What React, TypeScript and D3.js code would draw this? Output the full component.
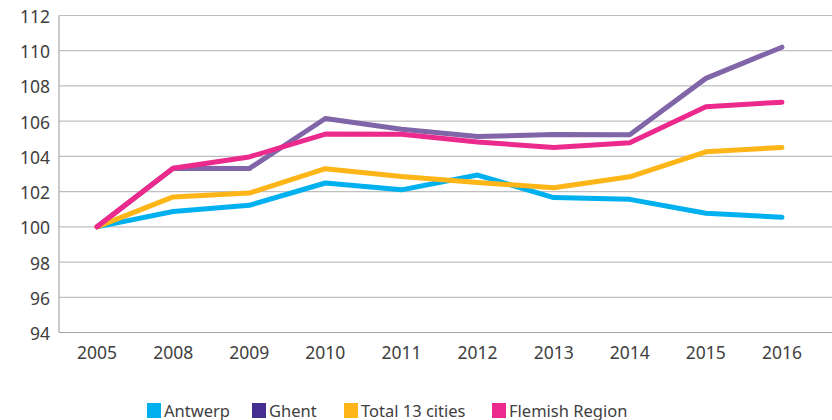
import React from "react";
import * as d3 from "d3";

const years = ["2005", "2008", "2009", "2010", "2011", "2012", "2013", "2014", "2015", "2016"];
const antwerp = [100, 100.87, 101.22, 102.49, 102.1, 102.94, 101.66, 101.56, 100.77, 100.54];
const ghent = [100, 103.33, 103.31, 106.15, 105.54, 105.13, 105.24, 105.23, 108.43, 110.2];
const total13 = [100, 101.7, 101.92, 103.3, 102.86, 102.52, 102.22, 102.84, 104.26, 104.51];
const flemish = [100, 103.33, 103.97, 105.27, 105.26, 104.82, 104.51, 104.77, 106.82, 107.08];
const yTicks = [94, 96, 98, 100, 102, 104, 106, 108, 110, 112];

const series = [
  { name: "Antwerp", values: antwerp, line: "#00b0ef", legend: "#00b0ef" },
  { name: "Ghent", values: ghent, line: "#8065a8", legend: "#442e8f" },
  { name: "Total 13 cities", values: total13, line: "#fdb518", legend: "#fdb518" },
  { name: "Flemish Region", values: flemish, line: "#ec2a8e", legend: "#ec2a8e" },
];

const legendX = [147, 252, 344, 492];

export default function App() {
  const W = 832;
  const H = 420;
  const left = 59;
  const x = d3.scaleBand<string>().domain(years).range([left, 820]);
  const y = d3.scaleLinear().domain([94, 112]).range([332.5, 15.5]);
  const line = d3
    .line<number>()
    .x((_, i) => (x(years[i]) as number) + x.bandwidth() / 2)
    .y((d) => y(d));
  const font = "'Noto Sans', 'Open Sans', sans-serif";
  return (
    <svg
      width={W}
      height={H}
      style={{ position: "absolute", left: 0, top: 0, background: "#fff" }}
      fontFamily={font}
    >
      {yTicks.map((t) => (
        <g key={t}>
          <line x1={left} x2={W} y1={y(t)} y2={y(t)} stroke={t === 94 ? "#a6a6a6" : "#bfbfbf"} strokeWidth={1.2} />
          <text x={50} y={y(t) + 7.5} textAnchor="end" fontSize={17.5} fill="#404040">
            {t}
          </text>
        </g>
      ))}
      <line x1={left} x2={left} y1={y(112)} y2={y(94)} stroke="#a6a6a6" strokeWidth={1.2} />
      {years.map((yr) => (
        <text
          key={yr}
          x={(x(yr) as number) + x.bandwidth() / 2}
          y={358.5}
          textAnchor="middle"
          fontSize={17.5}
          fill="#404040"
        >
          {yr}
        </text>
      ))}
      {series.map((s) => (
        <path
          key={s.name}
          d={line(s.values) || ""}
          fill="none"
          stroke={s.line}
          strokeWidth={5}
          strokeLinejoin="round"
          strokeLinecap="round"
        />
      ))}
      {series.map((s, i) => (
        <g key={s.name}>
          <rect x={legendX[i]} y={403} width={14} height={15} fill={s.legend} />
          <text x={legendX[i] + 17} y={416.5} fontSize={16.5} fill="#404040">
            {s.name}
          </text>
        </g>
      ))}
    </svg>
  );
}
